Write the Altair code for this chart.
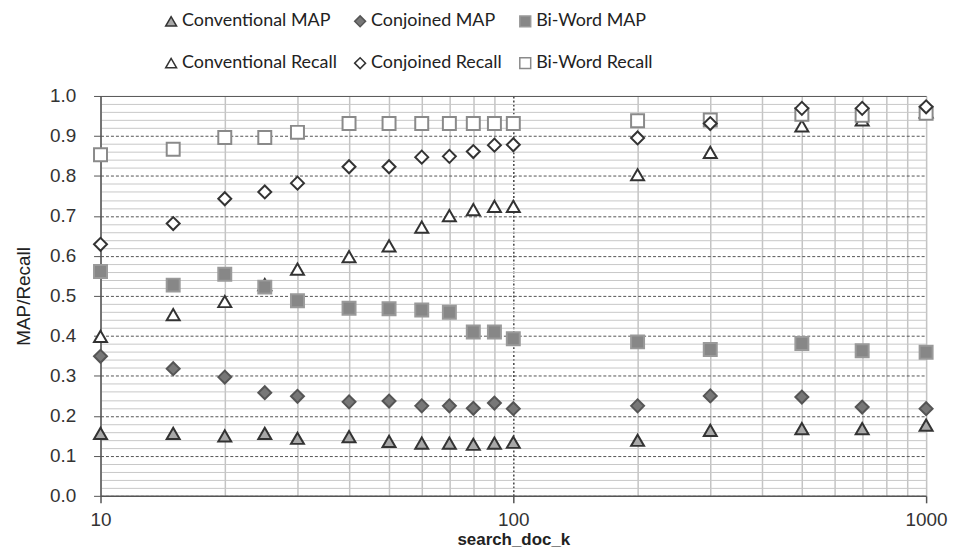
import altair as alt
import pandas as pd

k = [10, 15, 20, 25, 30, 40, 50, 60, 70, 80, 90, 100, 200, 300, 500, 700, 1000]
conv_map = [0.156, 0.156, 0.150, 0.156, 0.144, 0.148, 0.136, 0.132, 0.132, 0.129, 0.132, 0.134, 0.139, 0.164, 0.168, 0.168, 0.177]
conj_map = [0.349, 0.318, 0.297, 0.258, 0.249, 0.235, 0.237, 0.225, 0.225, 0.219, 0.232, 0.218, 0.225, 0.250, 0.247, 0.222, 0.218]
biw_map = [0.561, 0.527, 0.554, 0.522, 0.488, 0.469, 0.468, 0.465, 0.459, 0.410, 0.410, 0.393, 0.385, 0.366, 0.381, 0.363, 0.359]
conv_rec = [0.399, 0.453, 0.486, 0.528, 0.567, 0.598, 0.625, 0.672, 0.701, 0.716, 0.724, 0.724, 0.803, 0.859, 0.925, 0.940, 0.960]
conj_rec = [0.629, 0.681, 0.743, 0.760, 0.782, 0.823, 0.823, 0.847, 0.849, 0.861, 0.877, 0.878, 0.895, 0.931, 0.969, 0.969, 0.973]
biw_rec = [0.853, 0.867, 0.896, 0.896, 0.909, 0.931, 0.931, 0.931, 0.931, 0.931, 0.931, 0.931, 0.938, 0.940, 0.954, 0.952, 0.957]

legend_order = ["Conventional MAP", "Conjoined MAP", "Bi-Word MAP",
                "Conventional Recall", "Conjoined Recall", "Bi-Word Recall"]
shapes = ["triangle-up", "diamond", "square", "triangle-up", "diamond", "square"]
fills = ["#a8a8a8", "#777777", "#878787", "#ffffff", "#ffffff", "#ffffff"]
strokes = ["#333333", "#555555", "#9a9a9a", "#333333", "#333333", "#8a8a8a"]

# drawing order (later rows drawn on top)
draw_order = [("Conventional MAP", conv_map), ("Conventional Recall", conv_rec),
              ("Bi-Word MAP", biw_map), ("Bi-Word Recall", biw_rec),
              ("Conjoined MAP", conj_map), ("Conjoined Recall", conj_rec)]

rows = []
for name, vals in draw_order:
    for kk, v in zip(k, vals):
        rows.append({"k": kk, "value": v, "series": name})
df = pd.DataFrame(rows)

x_ticks = [10, 20, 30, 40, 50, 60, 70, 80, 90, 100, 200, 300, 400, 500, 600, 700, 800, 900, 1000]
y_ticks = [round(i * 0.02, 2) for i in range(51)]

major_y = "abs(datum.value*10 - round(datum.value*10)) < 0.001"
major_x = "datum.value == 10 || datum.value == 100 || datum.value == 1000"

x_axis = alt.Axis(
    values=x_ticks,
    labelExpr=f"({major_x}) ? datum.value : ''",
    labelOverlap=False, labelFlush=False, labelBound=False,
    labelFont="Liberation Sans", labelFontSize=19, labelColor="#333333",
    labelPadding=8,
    tickSize=7, tickColor="#555555", tickWidth=1.5,
    tickOpacity={"condition": {"test": major_x, "value": 1}, "value": 0},
    domainColor="#555555", domainWidth=1.5,
    grid=True,
    gridColor={"condition": {"test": "datum.value == 100", "value": "#444444"}, "value": "#c4c4c4"},
    gridDash={"condition": {"test": "datum.value == 100", "value": [2, 2]}, "value": []},
    gridWidth=1.5,
    title="search_doc_k", titleFont="Liberation Sans", titleFontSize=17,
    titleFontWeight="bold", titleColor="#222222", titlePadding=2,
)

y_axis = alt.Axis(
    values=y_ticks,
    labelExpr=f"({major_y}) ? format(datum.value, '.1f') : ''",
    labelOverlap=False, labelBound=False, labelFlush=False,
    labelFont="Liberation Sans", labelFontSize=19, labelColor="#333333",
    labelPadding=18,
    tickSize=7, tickColor="#555555", tickWidth=1,
    tickOpacity={"condition": {"test": major_y, "value": 1}, "value": 0},
    domainColor="#555555", domainWidth=1.5,
    grid=True,
    gridColor={"condition": {"test": major_y, "value": "#555555"}, "value": "#c8c8c8"},
    gridDash={"condition": {"test": f"({major_y}) && datum.value < 0.99", "value": [3, 2]}, "value": []},
    gridWidth=1,
    title="MAP/Recall", titleFont="Liberation Sans", titleFontSize=19,
    titleFontWeight="normal", titleColor="#222222", titlePadding=16,
)

legend = alt.Legend(
    orient="none", legendX=62, legendY=-84, columns=3, direction="horizontal",
    title=None, labelFont="Lato", labelFontSize=18, labelColor="#222222",
    symbolSize=120, symbolStrokeWidth=1.5, rowPadding=24, columnPadding=14,
    gridAlign="each", labelOffset=2, labelLimit=400,
)

chart = alt.Chart(df).mark_point(filled=True, size=170, strokeWidth=2, opacity=1).encode(
    x=alt.X("k:Q", scale=alt.Scale(type="log", domain=[10, 1000], nice=False), axis=x_axis),
    y=alt.Y("value:Q", scale=alt.Scale(domain=[0, 1], nice=False), axis=y_axis),
    shape=alt.Shape("series:N", scale=alt.Scale(domain=legend_order, range=shapes), legend=legend),
    fill=alt.Fill("series:N", scale=alt.Scale(domain=legend_order, range=fills), legend=legend),
    stroke=alt.Stroke("series:N", scale=alt.Scale(domain=legend_order, range=strokes), legend=legend),
).properties(
    width=830, height=402,
    padding={"left": 6, "top": 3, "right": 0, "bottom": 0},
).configure_view(
    stroke="#888888", strokeWidth=1.5
).configure(background="white")

chart.save("out.html", embed_options={"renderer": "svg", "actions": False})
